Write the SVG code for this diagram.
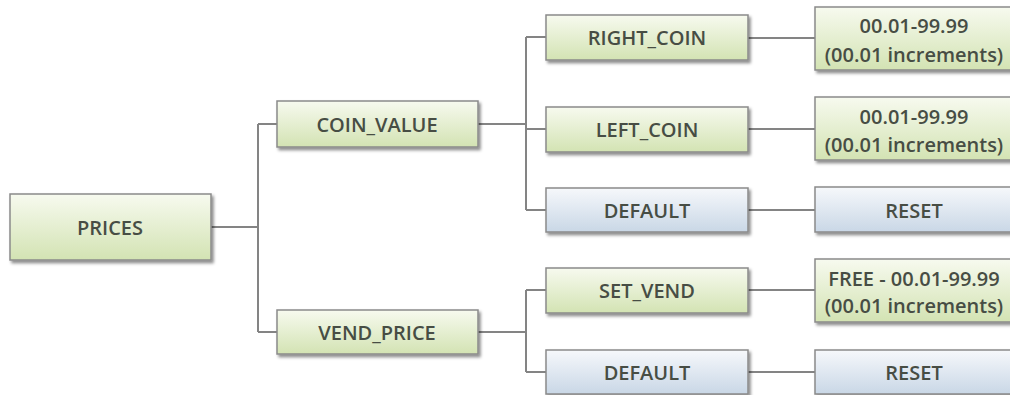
<svg xmlns="http://www.w3.org/2000/svg" width="1010" height="395" viewBox="0 0 1010 395">
<style>
.g{fill:url(#gg);stroke:#8a8a8a;stroke-width:1.5;filter:url(#sh)}
.b{fill:url(#bg);stroke:#8a8a8a;stroke-width:1.5;filter:url(#sh)}
text{font-family:"Open Sans","DejaVu Sans",sans-serif;font-weight:600;font-size:20px;fill:#474d44;text-anchor:middle;dominant-baseline:central}
.c{fill:none;stroke:#848484;stroke-width:2}
</style>
<defs>
<linearGradient id="gg" x1="0" y1="0" x2="0" y2="1">
<stop offset="0" stop-color="#f7faef"/>
<stop offset="1" stop-color="#d3e3b3"/>
</linearGradient>
<linearGradient id="bg" x1="0" y1="0" x2="0" y2="1">
<stop offset="0" stop-color="#f6f8fb"/>
<stop offset="1" stop-color="#c9d7e6"/>
</linearGradient>
<filter id="sh" x="-10%" y="-20%" width="130%" height="160%">
<feDropShadow dx="2" dy="2.5" stdDeviation="1.5" flood-color="#000" flood-opacity="0.45"/>
</filter>
</defs>
<rect width="1010" height="395" fill="#fff"/>
<g id="connectors">
<path class="c" d="M211,227 H258 M258,124 V332 M258,124 H277 M258,332 H277"/>
<path class="c" d="M478,124 H526 M526,37 V210 M526,37 H546 M526,129 H546 M526,210 H546"/>
<path class="c" d="M478,332 H526 M526,290 V372 M526,290 H546 M526,372 H546"/>
<path class="c" d="M748,38 H815 M748,129 H815 M748,210 H815 M748,290 H815 M748,372 H815"/>
</g>
<g id="prices"><rect class="g" x="10" y="194" width="201" height="66"/><text x="110" y="227">PRICES</text></g>
<g id="coin_value"><rect class="g" x="277" y="101" width="201" height="46"/><text x="377" y="124">COIN_VALUE</text></g>
<g id="vend_price"><rect class="g" x="277" y="310" width="201" height="44"/><text x="377" y="332">VEND_PRICE</text></g>
<g id="right_coin"><rect class="g" x="546" y="15" width="202" height="45"/><text x="647" y="37">RIGHT_COIN</text></g>
<g id="left_coin"><rect class="g" x="546" y="107" width="202" height="45"/><text x="647" y="129">LEFT_COIN</text></g>
<g id="default1"><rect class="b" x="546" y="188" width="202" height="44"/><text x="647" y="210">DEFAULT</text></g>
<g id="set_vend"><rect class="g" x="546" y="268" width="202" height="45"/><text x="647" y="290">SET_VEND</text></g>
<g id="default2"><rect class="b" x="546" y="350" width="202" height="44"/><text x="647" y="372">DEFAULT</text></g>
<g id="right_range"><rect class="g" x="815" y="7" width="210" height="63"/><text x="914" y="25">00.01-99.99</text><text x="914" y="54">(00.01 increments)</text></g>
<g id="left_range"><rect class="g" x="815" y="97" width="210" height="63"/><text x="914" y="116">00.01-99.99</text><text x="914" y="144">(00.01 increments)</text></g>
<g id="reset1"><rect class="b" x="815" y="187" width="210" height="45"/><text x="914" y="210">RESET</text></g>
<g id="vend_range"><rect class="g" x="815" y="259" width="210" height="63"/><text x="914" y="278">FREE - 00.01-99.99</text><text x="914" y="305">(00.01 increments)</text></g>
<g id="reset2"><rect class="b" x="815" y="350" width="210" height="44"/><text x="914" y="372">RESET</text></g>
</svg>
